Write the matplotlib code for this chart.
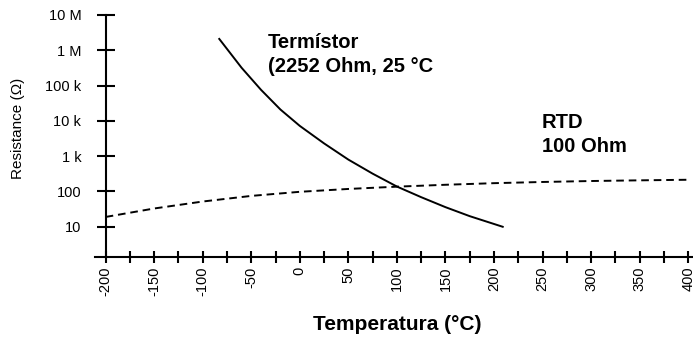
import matplotlib.pyplot as plt
from matplotlib.ticker import FixedLocator, NullFormatter

plt.rcParams["font.family"] = ["Liberation Sans", "DejaVu Sans"]
plt.rcParams["axes.unicode_minus"] = False
plt.rcParams["lines.scale_dashes"] = False

# Thermistor (2252 Ohm at 25 C)
therm_temp = [-83, -60, -40, -20, 0, 25, 50, 75, 100, 125, 150, 175, 209]
therm_res = [2.1e6, 3.2e5, 7.6e4, 2.1e4, 7.2e3, 2.3e3, 800, 320, 138, 69, 36, 20, 10]

# RTD Pt100
rtd_temp = [-200, -150, -100, -50, 0, 50, 100, 150, 200, 250, 300, 350, 400]
rtd_res = [19, 33, 52, 75, 98, 118, 137, 155, 172, 186, 198, 207, 215]

y_ticks = [10, 100, 1e3, 1e4, 1e5, 1e6, 1e7]
y_labels = ["10", "100", "1 k", "10 k", "100 k", "1 M", "10 M"]
x_ticks = list(range(-200, 401, 50))
x_minor = list(range(-175, 401, 50))


def main():
    fig = plt.figure(figsize=(6.93, 3.43), dpi=100)
    ax = fig.add_axes([95 / 693, 1 - 257 / 343, 1 - 95 / 693, (257 - 15) / 343])

    ax.plot(therm_temp, therm_res, color="black", linewidth=1.4)
    ax.plot(rtd_temp, rtd_res, color="black", linewidth=1.4,
            linestyle=(0, (5.5, 3.5)))

    ax.set_yscale("log")
    ax.set_xlim(-211, 405)
    ax.set_ylim(10 ** 0.144, 1e7)

    ax.spines["top"].set_visible(False)
    ax.spines["right"].set_visible(False)
    ax.spines["left"].set_position(("data", -200))
    for s in ("left", "bottom"):
        ax.spines[s].set_linewidth(1.5)

    ax.yaxis.set_major_locator(FixedLocator(y_ticks))
    ax.yaxis.set_minor_locator(FixedLocator([]))
    ax.set_yticklabels(y_labels)
    ax.yaxis.set_minor_formatter(NullFormatter())
    ax.tick_params(axis="y", direction="inout", length=13, width=1.5,
                   labelsize=10.5, pad=11)

    ax.xaxis.set_major_locator(FixedLocator(x_ticks))
    ax.xaxis.set_minor_locator(FixedLocator(x_minor))
    ax.set_xticklabels([str(v) for v in x_ticks], rotation=90)
    ax.tick_params(axis="x", which="both", direction="inout", length=8,
                   width=1.5, labelsize=10.5, pad=3)

    fig.text(18 / 693, 1 - 128 / 343, "Resistance (Ω)", rotation=90,
             fontsize=11, ha="center", va="center")
    fig.text(397 / 693, 1 - 325 / 343, "Temperatura (°C)", fontsize=15,
             fontweight="bold", ha="center", va="center")

    fig.text(268 / 693, 1 - 43 / 343, "Termístor", fontsize=14.5,
             fontweight="bold", ha="left", va="center")
    fig.text(268 / 693, 1 - 67 / 343, "(2252 Ohm, 25 °C", fontsize=14.5,
             fontweight="bold", ha="left", va="center")
    fig.text(542 / 693, 1 - 122 / 343, "RTD", fontsize=14.5,
             fontweight="bold", ha="left", va="center")
    fig.text(542 / 693, 1 - 147 / 343, "100 Ohm", fontsize=14.5,
             fontweight="bold", ha="left", va="center")

    plt.savefig("out.png", dpi=100)


if __name__ == "__main__":
    main()
